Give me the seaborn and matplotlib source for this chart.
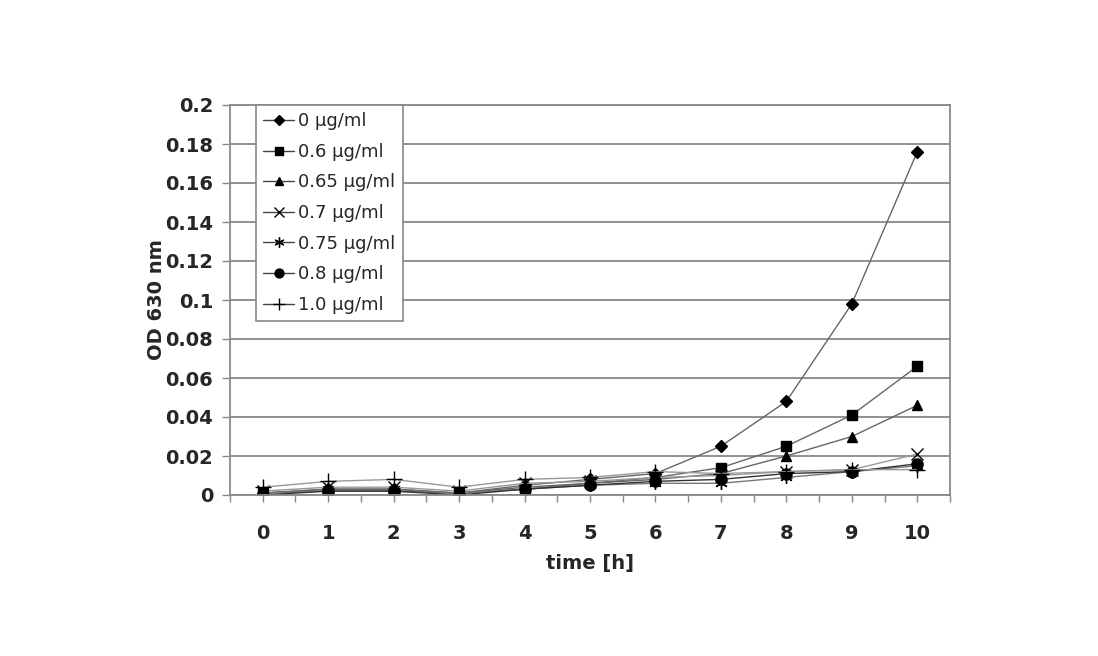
import matplotlib
matplotlib.use("Agg")
import matplotlib.pyplot as plt
import seaborn as sns
import numpy as np
import pandas as pd
from matplotlib.ticker import MultipleLocator

time_h = [0, 1, 2, 3, 4, 5, 6, 7, 8, 9, 10]
series_labels = ["0 µg/ml", "0.6 µg/ml", "0.65 µg/ml", "0.7 µg/ml",
                 "0.75 µg/ml", "0.8 µg/ml", "1.0 µg/ml"]
od_0 = [0.001, 0.003, 0.003, 0.001, 0.005, 0.008, 0.011, 0.025, 0.048, 0.098, 0.176]
od_06 = [0.001, 0.002, 0.002, 0.001, 0.003, 0.006, 0.009, 0.014, 0.025, 0.041, 0.066]
od_065 = [0.001, 0.003, 0.003, 0.001, 0.004, 0.006, 0.008, 0.011, 0.020, 0.030, 0.046]
od_07 = [0.002, 0.004, 0.004, 0.002, 0.006, 0.007, 0.009, 0.010, 0.012, 0.013, 0.021]
od_075 = [0.001, 0.002, 0.002, 0.001, 0.003, 0.005, 0.006, 0.006, 0.009, 0.012, 0.015]
od_08 = [0.000, 0.002, 0.002, 0.000, 0.003, 0.005, 0.007, 0.008, 0.011, 0.012, 0.016]
od_10 = [0.004, 0.007, 0.008, 0.004, 0.008, 0.009, 0.012, 0.011, 0.012, 0.013, 0.013]
y_ticks = [0, 0.02, 0.04, 0.06, 0.08, 0.1, 0.12, 0.14, 0.16, 0.18, 0.2]
y_tick_labels = ["0", "0.02", "0.04", "0.06", "0.08", "0.1", "0.12", "0.14", "0.16", "0.18", "0.2"]

all_series = [od_0, od_06, od_065, od_07, od_075, od_08, od_10]
markers = ["D", "s", "^", "x", (6, 2, 0), "o", "+"]
msizes = [6, 7, 7, 9, 9, 8, 11]
line_colors = ["#666666", "#666666", "#666666", "#999999", "#777777", "#333333", "#999999"]

sns.set_theme(style="white")
plt.rcParams["font.family"] = ["DejaVu Sans"]

fig = plt.figure(figsize=(10.98, 6.56), dpi=100)
ax = fig.add_axes([230 / 1098, 1 - 495 / 656, 720 / 1098, 390 / 656])

for vals, lab, mk, ms, lc in zip(all_series, series_labels, markers, msizes, line_colors):
    df = pd.DataFrame({"time": time_h, "od": vals})
    sns.lineplot(data=df, x="time", y="od", ax=ax, label=lab, color=lc,
                 linewidth=1.0, marker=mk, markersize=ms,
                 markerfacecolor="black", markeredgecolor="black",
                 markeredgewidth=1.0)

ax.set_xlim(-0.5, 10.5)
ax.set_ylim(0, 0.2)
ax.set_yticks(y_ticks)
ax.set_yticklabels(y_tick_labels)
ax.set_xticks(time_h)
ax.set_xticklabels([str(t) for t in time_h])
ax.xaxis.set_minor_locator(MultipleLocator(0.5))

ax.grid(axis="y", color="#888888", linewidth=1.3)
ax.grid(axis="x", visible=False)
for s in ax.spines.values():
    s.set_color("#888888")
    s.set_linewidth(1.3)
    s.set_visible(True)

ax.tick_params(axis="x", which="both", direction="out", length=5, width=1,
               color="#888888", bottom=True, pad=16, labelsize=14)
ax.tick_params(axis="y", which="major", direction="out", length=6, width=1,
               color="#888888", left=True, pad=6, labelsize=14)
for lbl in ax.get_xticklabels() + ax.get_yticklabels():
    lbl.set_fontweight("bold")

ax.set_xlabel("time [h]", fontsize=14, fontweight="bold", labelpad=8)
ax.set_ylabel("OD 630 nm", fontsize=14, fontweight="bold")
ax.yaxis.set_label_coords(-0.089, 0.5)

leg = ax.legend(loc="upper left", bbox_to_anchor=(26 / 720, 1.0), frameon=True,
                fontsize=13, handlelength=1.7, handletextpad=0.25,
                labelspacing=0.7, borderpad=0.4, borderaxespad=0.0,
                fancybox=False)
leg.get_frame().set_edgecolor("#888888")
leg.get_frame().set_linewidth(1.2)
leg.get_frame().set_alpha(1)
for line in leg.get_lines():
    line.set_color("#444444")
    line.set_markersize(line.get_markersize() * 0.8)

fig.savefig("out.png", dpi=100, facecolor="white")
